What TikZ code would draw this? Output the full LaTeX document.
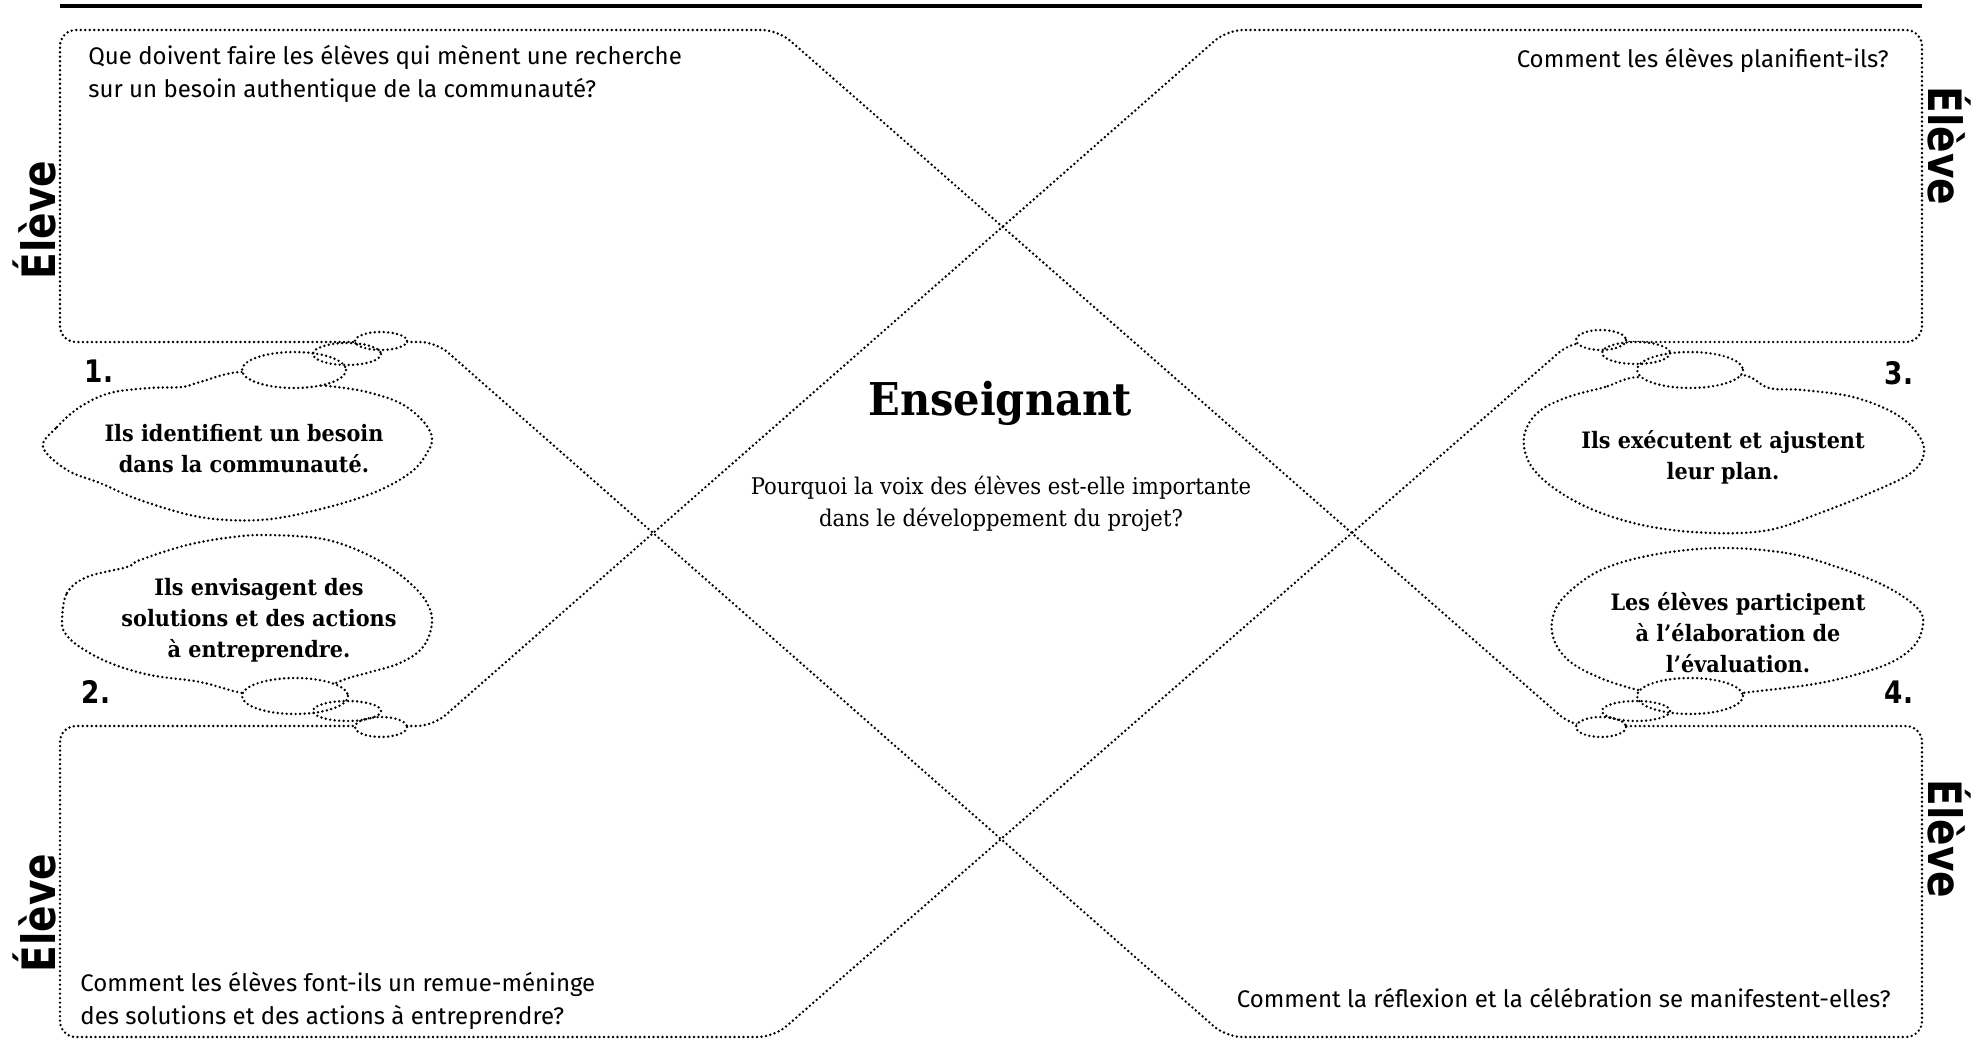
\documentclass[tikz,border=0pt]{standalone}
\usepackage{fontspec}
\setmainfont{Fira Sans}
\newfontfamily\slabfont{DejaVu Serif}[FakeStretch=0.92]
\newfontfamily\heavyfont{DejaVu Sans}[FakeStretch=0.85]
\tikzset{
  dotline/.style={line width=1.35pt, line cap=round, dash pattern=on 0pt off 2.25pt},
  question/.style={inner sep=0pt, font=\fontsize{12}{16.5}\selectfont},
  thought/.style={inner sep=0pt, align=center, font=\slabfont\bfseries\fontsize{11.3}{15.5}\selectfont},
  eleve/.style={inner sep=0pt, font=\heavyfont\bfseries\fontsize{23}{23}\selectfont},
  stepnum/.style={inner sep=0pt, font=\heavyfont\bfseries\fontsize{15.5}{15.5}\selectfont},
}

\begin{document}
\begin{tikzpicture}[x=0.5pt,y=-0.5pt]
\fill[white] (0,0) rectangle (1977,1055);
\useasboundingbox (0,0) rectangle (1977,1055);
\def\xleft{60}
\def\xright{1922}
\def\ytop{30}
\def\yupper{342}
\def\ylower{726}
\def\ybot{1037}
% rule
\draw[line width=2.2pt] (\xleft,6) -- (\xright,6);
% frame
\draw[dotline,rounded corners=8pt] (\xleft,180) -- (\xleft,\yupper) -- (436,\yupper) -- (1226,\ybot)
  -- (\xright,\ybot) -- (\xright,\ylower) -- (1572,\ylower) -- (778,\ytop) -- (\xleft,\ytop) -- cycle;
\draw[dotline,rounded corners=8pt] (\xright,180) -- (\xright,\yupper) -- (1571,\yupper) -- (774,\ybot)
  -- (\xleft,\ybot) -- (\xleft,\ylower) -- (433,\ylower) -- (1227,\ytop) -- (\xright,\ytop) -- cycle;
% clouds
\draw[dotline] plot[smooth cycle,tension=0.6] coordinates {(43,447) (57,427) (80,407) (110,393) (150,388)
  (182,387) (200,382) (242,372) (294,382) (337,387) (367,392) (400,403) (422,420) (432,437) (427,453)
  (410,473) (373,493) (317,510) (260,520) (200,517) (140,500) (100,483) (67,470)};
\draw[dotline] plot[smooth cycle,tension=0.6] coordinates {(62,620) (67,593) (87,577) (127,567) (140,560)
  (187,545) (233,537) (267,535) (317,538) (350,547) (383,563) (410,583) (427,603) (432,623) (423,647)
  (400,663) (367,673) (343,680) (293,700) (242,693) (200,682) (150,675) (110,663) (80,647) (65,633)};
\draw[dotline] plot[smooth cycle,tension=0.6] coordinates {(1638,377) (1605,387) (1568,397) (1541,410)
  (1527,427) (1524,447) (1534,470) (1561,493) (1601,513) (1652,527) (1712,533) (1769,530) (1820,513)
  (1870,493) (1911,473) (1924,453) (1917,433) (1894,413) (1853,397) (1803,390) (1769,388) (1742,375)
  (1690,382)};
\draw[dotline] plot[smooth cycle,tension=0.6] coordinates {(1719,548) (1786,553) (1837,567) (1887,587)
  (1919,610) (1922,630) (1910,650) (1880,667) (1820,683) (1742,693) (1690,700) (1638,690) (1598,677)
  (1568,660) (1553,637) (1554,613) (1568,593) (1601,570) (1652,555)};
% bubbles
\foreach \cx/\cy/\rx/\ry in {294/370/52/18, 347/354/34/11, 381/341/26/9, 295/696/53/18, 347/711/34/10,
  381/727/26/10, 1690/370/53/18, 1636/353/34/11, 1601/340/25/10, 1690/696/53/18, 1636/711/34/10, 1601/727/25/10}
  \fill[white] (\cx,\cy) ellipse [x radius=\rx, y radius=\ry];
\foreach \cx/\cy/\rx/\ry in {294/370/52/18, 347/354/34/11, 381/341/26/9, 295/696/53/18, 347/711/34/10,
  381/727/26/10, 1690/370/53/18, 1636/353/34/11, 1601/340/25/10, 1690/696/53/18, 1636/711/34/10, 1601/727/25/10}
  \draw[dotline] (\cx,\cy) ellipse [x radius=\rx, y radius=\ry];
% questions
\node[question,anchor=west,align=left] (qtl) at (88,74) {Que doivent faire les élèves qui mènent une recherche\\sur un besoin authentique de la communauté?};
\node[question,anchor=east] (qtr) at (1889,60) {Comment les élèves planifient-ils?};
\node[question,anchor=west,align=left] (qbl) at (80,1001) {Comment les élèves font-ils un remue-méninge\\des solutions et des actions à entreprendre?};
\node[question,anchor=east] (qbr) at (1891,998) {Comment la réflexion et la célébration se manifestent-elles?};
% centre
\node[inner sep=0pt,anchor=base,font=\slabfont\bfseries\fontsize{22.6}{24}\selectfont] (ens) at (1000,415) {Enseignant};
\node[inner sep=0pt,align=center,font=\slabfont\fontsize{11.5}{16}\selectfont] (why) at (1001,504) {Pourquoi la voix des élèves est-elle importante\\dans le développement du projet?};
% steps
\node[thought] (t1) at (244,449) {Ils identifient un besoin\\dans la communauté.};
\node[thought] (t2) at (259,620) {Ils envisagent des\\solutions et des actions\\à entreprendre.};
\node[thought] (t3) at (1723,457) {Ils exécutent et ajustent\\leur plan.};
\node[thought] (t4) at (1738,633) {Les élèves participent\\à l’élaboration de\\l’évaluation.};
\node[stepnum] (n1) at (99,371) {1.};
\node[stepnum] (n2) at (96,692) {2.};
\node[stepnum] (n3) at (1899,373) {3.};
\node[stepnum] (n4) at (1899,692) {4.};
% labels
\node[eleve,rotate=90] (e1) at (34,220) {Élève};
\node[eleve,rotate=-90] (e2) at (1949,146) {Élève};
\node[eleve,rotate=90] (e3) at (34,913) {Élève};
\node[eleve,rotate=-90] (e4) at (1949,839) {Élève};
\end{tikzpicture}
\end{document}
